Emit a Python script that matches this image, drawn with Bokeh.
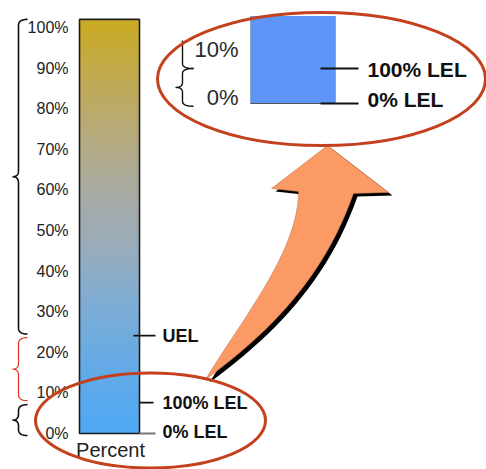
import numpy as np
from bokeh.plotting import figure
from bokeh.models import Range1d
from bokeh.embed import file_html
from bokeh.resources import INLINE
from bokeh.core.properties import value

# ---------------- data ----------------
tick_values = [0, 10, 20, 30, 40, 50, 60, 70, 80, 90, 100]
tick_labels = ["0%", "10%", "20%", "30%", "40%", "50%", "60%", "70%", "80%", "90%", "100%"]
bar_top = 102.0
bar_label = "Percent"
marker_names = ["UEL", "100% LEL", "0% LEL"]
marker_values = [24.1, 7.6, 0.0]

inset_tick_values = [0, 10]
inset_tick_labels = ["0%", "10%"]
inset_top = 19.0
inset_marker_names = ["100% LEL", "0% LEL"]
inset_marker_values = [7.6, 0.0]

# ---------------- layout ----------------
W, H = 486, 469
ZERO_ROW, PX_PER_PCT = 433.0, 4.06          # main scale
INSET_ZERO_ROW, INSET_PX_PER_PCT = 103.0, 4.6  # magnified scale
FONT = value("Liberation Sans")

p = figure(width=W, height=H, x_range=Range1d(0, W),
           y_range=Range1d((ZERO_ROW - H) / PX_PER_PCT, ZERO_ROW / PX_PER_PCT),
           output_backend="svg", toolbar_location=None,
           x_axis_type=None, y_axis_type=None, min_border=0,
           outline_line_color=None, background_fill_color="white",
           border_fill_color="white")
p.extra_y_ranges = {
    "inset": Range1d((INSET_ZERO_ROW - H) / INSET_PX_PER_PCT, INSET_ZERO_ROW / INSET_PX_PER_PCT),
    "px": Range1d(H, 0),
}


def qbez(p0, c, p1, n=14):
    t = np.linspace(0, 1, n)
    x = (1 - t) ** 2 * p0[0] + 2 * (1 - t) * t * c[0] + t ** 2 * p1[0]
    y = (1 - t) ** 2 * p0[1] + 2 * (1 - t) * t * c[1] + t ** 2 * p1[1]
    return list(x), list(y)


def cbez(p0, c0, c1, p1, n=24):
    t = np.linspace(0, 1, n)
    a, b, c, d = (1 - t) ** 3, 3 * (1 - t) ** 2 * t, 3 * (1 - t) * t ** 2, t ** 3
    x = a * p0[0] + b * c0[0] + c * c1[0] + d * p1[0]
    y = a * p0[1] + b * c0[1] + c * c1[1] + d * p1[1]
    return list(x), list(y)


def brace(xs, y_lo, y_hi, tip, end, r):
    """Left-pointing curly brace between y_lo and y_hi."""
    ym = (y_lo + y_hi) / 2
    px, py = [], []
    for seg in (qbez((xs + end, y_hi), (xs, y_hi), (xs, y_hi - r)),
                qbez((xs, ym + r), (xs, ym), (xs - tip, ym)),
                qbez((xs - tip, ym), (xs, ym), (xs, ym - r)),
                qbez((xs, y_lo + r), (xs, y_lo), (xs + end, y_lo))):
        px += seg[0]
        py += seg[1]
    return px, py


# ---------------- main gradient bar ----------------
stop_v = [0, 15, 30, 45, 60, 72, 86, 100]
stop_c = np.array([(78, 168, 244), (98, 170, 232), (122, 172, 214), (152, 172, 190),
                   (168, 170, 160), (180, 170, 128), (192, 170, 88), (201, 170, 38)])
edges = np.linspace(0, bar_top, 181)
mids = (edges[:-1] + edges[1:]) / 2
cols = []
for m in mids:
    rgb = [int(round(np.interp(m, stop_v, stop_c[:, k]))) for k in range(3)]
    cols.append("#%02x%02x%02x" % tuple(rgb))
tops = np.minimum(edges[1:] + 0.2, bar_top)
p.quad(left=79, right=139, bottom=edges[:-1], top=tops, fill_color=cols, line_color=None)
p.quad(left=79, right=139, bottom=0, top=bar_top, fill_color=None,
       line_color="#1e1e1e", line_width=1.6)

# axis labels of the main bar
p.text(x=68, y=tick_values, text=tick_labels, text_align="right", text_baseline="middle",
       text_font=FONT, text_font_size="16px", text_color="#222222")
p.text(x=[110], y=[449], text=[bar_label], text_align="center", text_baseline="middle",
       text_font=FONT, text_font_size="20px", text_color="#222222", y_range_name="px")

# limit markers on the main bar
mk_x0 = [133, 139, 139]
mk_x1 = [155, 153, 155]
mk_col = ["#111111", "#111111", "#777777"]
p.segment(x0=mk_x0, x1=mk_x1, y0=marker_values, y1=marker_values,
          line_color=mk_col, line_width=1.8)
p.text(x=162, y=marker_values, text=marker_names, text_align="left", text_baseline="middle",
       y_offset=[0, 0, -2], text_font=FONT, text_font_size="18px",
       text_font_style="bold", text_color="#111111")

# braces grouping the ranges
uel, lel = marker_values[0], marker_values[1]
r_main = 6 / PX_PER_PCT
for lo, hi, col, lw in ((uel + 0.4, bar_top, "#111111", 1.6),
                        (lel + 0.5, uel - 0.5, "#dc3324", 1.2),
                        (-0.5, lel - 0.5, "#111111", 1.6)):
    bx, by = brace(18, lo, hi, 6, 9, r_main)
    p.line(bx, by, line_color=col, line_width=lw)

# ---------------- magnified inset ----------------
p.quad(left=250, right=335, bottom=0, top=inset_top, fill_color="#5d96f8",
       line_color=None, y_range_name="inset")
p.segment(x0=[250], x1=[250], y0=[0], y1=[inset_top], line_color="#8aa6c8",
          line_width=1, y_range_name="inset")
p.segment(x0=[335], x1=[335], y0=[0], y1=[inset_top], line_color="#4cc3e6",
          line_width=1, y_range_name="inset")
p.segment(x0=[250], x1=[335], y0=[0], y1=[0], line_color="#555555",
          line_width=1.2, y_range_name="inset")
p.segment(x0=320, x1=358, y0=inset_marker_values, y1=inset_marker_values,
          line_color="#111111", line_width=2, y_range_name="inset")
p.text(x=367, y=inset_marker_values, text=inset_marker_names, text_align="left",
       text_baseline="middle", y_offset=[1, -4], text_font=FONT, text_font_size="21px",
       text_font_style="bold", text_color="#111111", y_range_name="inset")
p.text(x=238, y=inset_tick_values, text=inset_tick_labels, text_align="right",
       text_baseline="middle", y_offset=[-6, -8], text_font=FONT, text_font_size="22px",
       text_color="#2a2a2a", y_range_name="inset")

ilel = inset_marker_values[0]
r_in = 5 / INSET_PX_PER_PCT
bx, by = brace(182, -0.6, ilel, 7, 11, r_in)
p.line(bx, by, line_color="#111111", line_width=1.4, y_range_name="inset")
ux, uy = qbez((182, ilel + r_in), (182, ilel), (193, ilel))
ux = [182] + ux
uy = [13.7] + uy
p.line(ux, uy, line_color="#111111", line_width=1.4, y_range_name="inset")

# ---------------- curved arrow ----------------
tail = (205, 379)
lx, ly = cbez(tail, (241, 319), (298, 251), (298, 191))
rx, ry = cbez((353, 193), (325, 273), (273.5, 329), tail)
ax = lx + [271, 327, 388] + rx
ay = ly + [188, 145, 192] + ry
p.patch([v + 4 for v in ax], [v + 3 for v in ay], fill_color="#000000",
        line_color=None, y_range_name="px")
p.patch(ax, ay, fill_color="#fb9a64", line_color="#b87050", line_width=0.5,
        y_range_name="px")

# ---------------- highlight rings ----------------
p.ellipse(x=[150, 321], y=[420, 78.5], width=[230, 328], height=[95, 133],
          fill_color=None, line_color="#c4411d", line_width=3, y_range_name="px")

open("out.html", "w").write(file_html(p, INLINE))
